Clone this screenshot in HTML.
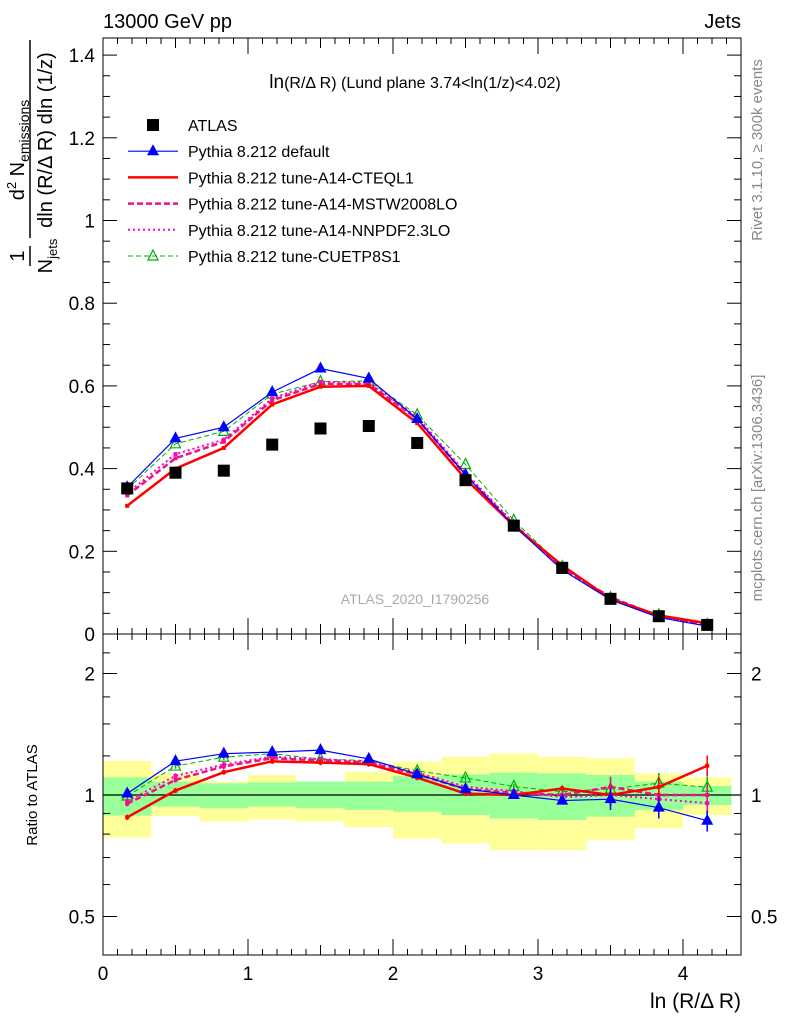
<!DOCTYPE html>
<html><head><meta charset="utf-8"><style>
body{margin:0;background:#fff}
svg{display:block;font-family:"Liberation Sans",sans-serif}
</style></head><body>
<svg id="c" width="786" height="1024" xmlns="http://www.w3.org/2000/svg"></svg>
<script>
const xs=[0.167,0.5,0.833,1.167,1.5,1.833,2.167,2.5,2.833,3.167,3.5,3.833,4.167];
const atlas=[0.352,0.39,0.395,0.458,0.497,0.503,0.462,0.372,0.262,0.16,0.085,0.043,0.022];
const pDefault=[0.355,0.473,0.5,0.585,0.642,0.618,0.52,0.385,0.262,0.155,0.083,0.04,0.019];
const pCteq=[0.31,0.40,0.45,0.555,0.598,0.600,0.51,0.375,0.262,0.166,0.085,0.045,0.026];
const pMstw=[0.335,0.425,0.465,0.565,0.605,0.605,0.52,0.385,0.265,0.16,0.089,0.043,0.022];
const pNnpdf=[0.34,0.435,0.47,0.57,0.61,0.608,0.525,0.39,0.268,0.158,0.085,0.042,0.021];
const pCuetp=[0.35,0.46,0.49,0.58,0.61,0.612,0.53,0.41,0.275,0.163,0.088,0.046,0.023];
const yelHi=[1.214,1.131,1.079,1.121,1.059,1.142,1.209,1.244,1.268,1.244,1.233,1.131,1.106];
const yelLo=[0.784,0.887,0.859,0.870,0.859,0.832,0.781,0.759,0.730,0.730,0.774,0.827,0.892];
const grnHi=[1.106,1.079,1.069,1.075,1.079,1.079,1.114,1.125,1.136,1.131,1.121,1.079,1.053];
const grnLo=[0.889,0.936,0.927,0.936,0.927,0.918,0.909,0.892,0.875,0.867,0.884,0.918,0.945];
const mainTicks=[0,0.2,0.4,0.6,0.8,1,1.2,1.4];
const mainTickLabels=["0","0.2","0.4","0.6","0.8","1","1.2","1.4"];
const ratioTicks=[0.5,1,2];
const ratioTickLabels=["0.5","1","2"];
const xTicks=[0,1,2,3,4];
const xTickLabels=["0","1","2","3","4"];

const L=103,R=741,MT=38,MB=634,RT=634,RB=955;
const X=v=>L+v*145;
const Y=v=>634-v*413.5;
const YR=r=>795-Math.log2(r)*121.5;
const svg=document.getElementById('c');
const NS="http://www.w3.org/2000/svg";
function el(t,a,p){const e=document.createElementNS(NS,t);for(const k in a)e.setAttribute(k,a[k]);(p||svg).appendChild(e);return e;}
function txt(s,a,p){const e=el('text',a,p);e.textContent=s;return e;}

const bandG=el('g',{});


xs.forEach((x,i)=>{
  const x0=X(x-1/6),x1=X(x+1/6);
  el('rect',{x:x0,y:YR(yelHi[i]),width:x1-x0,height:YR(yelLo[i])-YR(yelHi[i]),fill:'#ffff99'},bandG);
});
xs.forEach((x,i)=>{
  const x0=X(x-1/6),x1=X(x+1/6);
  el('rect',{x:x0,y:YR(grnHi[i]),width:x1-x0,height:YR(grnLo[i])-YR(grnHi[i]),fill:'#99ff99'},bandG);
});
el('line',{x1:L,x2:R,y1:YR(1),y2:YR(1),stroke:'#000','stroke-width':1.2});

const f1=el('rect',{x:L,y:MT,width:R-L,height:MB-MT,fill:'none',stroke:'#000','stroke-width':1});

const f2=el('rect',{x:L,y:RT,width:R-L,height:RB-RT,fill:'none',stroke:'#000','stroke-width':1});


for(let v=0;v<=1.44;v+=0.05){const y=Y(v);const maj=Math.abs(v/0.2-Math.round(v/0.2))<1e-6;const l=maj?14:7;
  el('line',{x1:L,x2:L+l,y1:y,y2:y,stroke:'#000'});el('line',{x1:R,x2:R-l,y1:y,y2:y,stroke:'#000'});}
mainTicks.forEach((v,i)=>{const t=txt(mainTickLabels[i],{x:L-8,y:Y(v)+7,'font-size':19,'text-anchor':'end'});
  });
[0.5,0.6,0.7,0.8,0.9,1,1.25,1.5,1.75,2,2.25].forEach(r=>{const y=YR(r);const maj=ratioTicks.includes(r);const l=maj?14:7;
  el('line',{x1:L,x2:L+l,y1:y,y2:y,stroke:'#000'});el('line',{x1:R,x2:R-l,y1:y,y2:y,stroke:'#000'});});
ratioTicks.forEach((v,i)=>{
  const t=txt(ratioTickLabels[i],{x:L-8,y:YR(v)+7,'font-size':19,'text-anchor':'end'});
  
  const t2=txt(ratioTickLabels[i],{x:R+10,y:YR(v)+7,'font-size':19});
  });
for(let v=0;v<=4.4;v+=0.1){const x=X(v);const maj=Math.abs(v-Math.round(v))<1e-6;const half=Math.abs(v*2-Math.round(v*2))<1e-6;const l=maj?16:(half?10:6);
  el('line',{x1:x,x2:x,y1:RB,y2:RB-l,stroke:'#000'});el('line',{x1:x,x2:x,y1:MB,y2:MB-l,stroke:'#000'});
  el('line',{x1:x,x2:x,y1:MT,y2:MT+l,stroke:'#000'});el('line',{x1:x,x2:x,y1:RT,y2:RT+l,stroke:'#000'});}
xTicks.forEach((v,i)=>{const t=txt(xTickLabels[i],{x:X(v),y:980,'font-size':19,'text-anchor':'middle'});
  });

const series=[
 {d:pCuetp,c:'#00b000',w:1,dash:'5,3',m:'otri',name:'cuetp8s1'},
 {d:pNnpdf,c:'#ff00cc',w:2,dash:'2,3',m:'none',name:'nnpdf'},
 {d:pMstw,c:'#ee1188',w:2.5,dash:'6,3',m:'none',name:'mstw'},
 {d:pCteq,c:'#ff0000',w:2.5,dash:'',m:'none',name:'cteql1'},
 {d:pDefault,c:'#0000ff',w:1.2,dash:'',m:'tri',name:'default'}];
function marker(m,x,y,c,g){
  if(m==='tri')el('polygon',{points:`${x},${y-7} ${x-6},${y+4} ${x+6},${y+4}`,fill:c},g);
  if(m==='otri')el('polygon',{points:`${x},${y-6} ${x-5},${y+4} ${x+5},${y+4}`,fill:'none',stroke:c,'stroke-width':1.2},g);
  if(m==='sq')el('rect',{x:x-6,y:y-6,width:12,height:12,fill:c},g);
  if(m==='none')el('rect',{x:x-2,y:y-2,width:4,height:4,fill:c},g);
}
series.forEach(s=>{
  const g=el('g',{});
  el('polyline',{points:xs.map((x,i)=>X(x)+','+Y(s.d[i])).join(' '),fill:'none',stroke:s.c,'stroke-width':s.w,'stroke-dasharray':s.dash},g);
  xs.forEach((x,i)=>marker(s.m,X(x),Y(s.d[i]),s.c,g));
  const gr=el('g',{});
  el('polyline',{points:xs.map((x,i)=>X(x)+','+YR(s.d[i]/atlas[i])).join(' '),fill:'none',stroke:s.c,'stroke-width':s.w,'stroke-dasharray':s.dash},gr);
  xs.forEach((x,i)=>{const r=s.d[i]/atlas[i];const e=i>=10?0.06:0.015;
    el('line',{x1:X(x),x2:X(x),y1:YR(r*(1+e)),y2:YR(r*(1-e)),stroke:s.c,'stroke-width':1.5},gr);
    marker(s.m,X(x),YR(r),s.c,gr);});
});
const ga=el('g',{});
xs.forEach((x,i)=>marker('sq',X(x),Y(atlas[i]),'#000',ga));

const leg=[['ATLAS','#000','','sq',0],['Pythia 8.212 default','#0000ff','','tri',1.2],['Pythia 8.212 tune-A14-CTEQL1','#ff0000','','none',2.5],
 ['Pythia 8.212 tune-A14-MSTW2008LO','#ee1188','6,3','none',2.5],['Pythia 8.212 tune-A14-NNPDF2.3LO','#ff00cc','2,3','none',2],['Pythia 8.212 tune-CUETP8S1','#00b000','5,3','otri',1]];
leg.forEach((l,i)=>{const y=125+i*26.2;const g=el('g',{});
  if(l[4])el('line',{x1:128,x2:178,y1:y,y2:y,stroke:l[1],'stroke-width':l[4],'stroke-dasharray':l[2]},g);
  if(l[3]!=='none')marker(l[3],153,y,l[1],g);
  txt(l[0],{x:188,y:y+6,'font-size':16},g);});

let t;
t=txt('13000 GeV pp',{x:103,y:28,'font-size':20});
t=txt('Jets',{x:741,y:28,'font-size':20,'text-anchor':'end'});
t=el('text',{x:415,y:88,'font-size':16,'text-anchor':'middle'});
const ts1=el('tspan',{'font-size':19},t);ts1.textContent='ln';
const ts2=el('tspan',{},t);ts2.textContent='(R/Δ R) (Lund plane 3.74<ln(1/z)<4.02)';

t=txt('ATLAS_2020_I1790256',{x:415,y:604,'font-size':14,'text-anchor':'middle',fill:'#aaa'});
t=txt('ln (R/Δ R)',{x:741,y:1008,'font-size':21,'text-anchor':'end'});
t=txt('Ratio to ATLAS',{x:0,y:0,'font-size':15,'text-anchor':'middle',transform:'translate(37,795) rotate(-90)'});
t=txt('Rivet 3.1.10, ≥ 300k events',{x:0,y:0,'font-size':15,'text-anchor':'middle',fill:'#888',transform:'translate(762,150) rotate(-90)'});
t=txt('mcplots.cern.ch [arXiv:1306.3436]',{x:0,y:0,'font-size':15,'text-anchor':'middle',fill:'#888',transform:'translate(762,488) rotate(-90)'});
const yt=el('g',{transform:'translate(0,170) rotate(-90)'});

txt('1',{x:-86,y:24,'font-size':20,'text-anchor':'middle'},yt);
el('line',{x1:-96,x2:-76,y1:30,y2:30,stroke:'#000','stroke-width':1.5},yt);
const n1=el('text',{x:-86,y:52,'font-size':20,'text-anchor':'middle'},yt);
const n1a=el('tspan',{},n1);n1a.textContent='N';
const n1b=el('tspan',{'font-size':13,dy:5},n1);n1b.textContent='jets';
const numTop=el('text',{x:20,y:24,'font-size':20,'text-anchor':'middle'},yt);
const q1=el('tspan',{},numTop);q1.textContent='d';
const q2=el('tspan',{'font-size':13,dy:-8},numTop);q2.textContent='2';
const q3=el('tspan',{dy:8},numTop);q3.textContent=' N';
const q4=el('tspan',{'font-size':14,dy:5},numTop);q4.textContent='emissions';
el('line',{x1:-68,x2:130,y1:30,y2:30,stroke:'#000','stroke-width':1.5},yt);
txt('dln (R/Δ R) dln (1/z)',{x:30,y:52,'font-size':20,'text-anchor':'middle'},yt);
</script>
</body></html>
